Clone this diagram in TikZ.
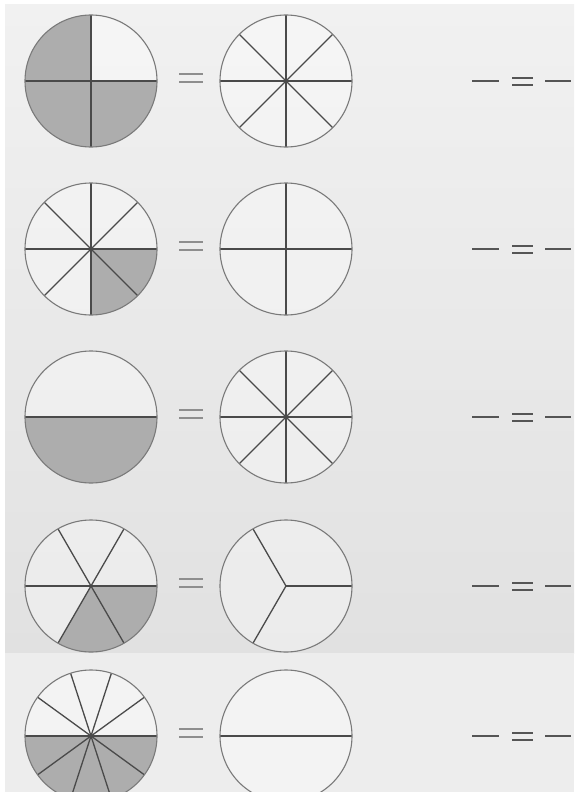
\documentclass[tikz,border=0pt]{standalone}
\definecolor{rimgray}{HTML}{7A7A7A}
\definecolor{spokegray}{HTML}{4A4A4A}
\definecolor{shadegray}{HTML}{ADADAD}
\definecolor{bgtop}{HTML}{F1F1F1}
\definecolor{bgmid}{HTML}{E1E1E1}
\definecolor{bgbot}{HTML}{EDEDED}
\definecolor{eqmid}{HTML}{8E8E8E}
\definecolor{eqright}{HTML}{555555}
\tikzset{
  rim/.style={draw=rimgray, line width=1.1pt},
  spoke/.style={draw=spokegray, line width=1.3pt},
  shadefill/.style={fill=shadegray},
  innerfill/.style={fill=white, opacity=0.35},
  eqmidline/.style={draw=eqmid, line width=2pt},
  eqrightline/.style={draw=eqright, line width=2pt},
}
\newcommand\plainpie[2]{%
  \fill[innerfill] (#1) circle[radius=66];
  \foreach \t in {#2} {\draw[spoke] (#1) -- ++(\t:66);}
  \draw[rim] (#1) circle[radius=66];
}
\newcommand\shadedpie[3]{%
  \fill[innerfill] (#1) circle[radius=66];
  \foreach \a/\b in {#3} {\fill[shadefill] (#1) -- ++(\a:66) arc[start angle=\a,end angle=\b,radius=66] -- cycle;}
  \foreach \t in {#2} {\draw[spoke] (#1) -- ++(\t:66);}
  \draw[rim] (#1) circle[radius=66];
}
\newcommand\hubdot[1]{\fill[spokegray] (#1) circle[radius=1.7];}
\newcommand\eqrow[1]{%
  \draw[eqmidline] (179,#1+7) -- (203,#1+7);
  \draw[eqmidline] (179,#1-1) -- (203,#1-1);
  \draw[eqrightline] (472,#1) -- (499,#1);
  \draw[eqrightline] (512,#1+3.5) -- (533,#1+3.5);
  \draw[eqrightline] (512,#1-3.5) -- (533,#1-3.5);
  \draw[eqrightline] (545,#1) -- (571,#1);
}
\begin{document}
\begin{tikzpicture}[x=1pt,y=1pt]
\useasboundingbox (0,0) rectangle (574,-792);
\fill[white] (0,0) rectangle (574,-792);
\shade[top color=bgtop, bottom color=bgmid] (5,-5) rectangle (574,-653);
\fill[bgbot] (5,-653) rectangle (574,-792);

\coordinate (L1) at (91,-81);  \coordinate (R1) at (286,-81);
\coordinate (L2) at (91,-249); \coordinate (R2) at (286,-249);
\coordinate (L3) at (91,-417); \coordinate (R3) at (286,-417);
\coordinate (L4) at (91,-586); \coordinate (R4) at (286,-586);
\coordinate (L5) at (91,-736); \coordinate (R5) at (286,-736);

% row 1
\shadedpie{L1}{0,90,180,270}{90/180,180/270,270/360}
\plainpie{R1}{0,45,...,315} \hubdot{R1}
\eqrow{-81}
% row 2
\shadedpie{L2}{0,45,...,315}{270/315,315/360} \hubdot{L2}
\plainpie{R2}{0,90,180,270}
\eqrow{-249}
% row 3
\shadedpie{L3}{0,180}{180/360}
\plainpie{R3}{0,45,...,315} \hubdot{R3}
\eqrow{-417}
% row 4
\shadedpie{L4}{0,60,...,300}{240/300,300/360} \hubdot{L4}
\plainpie{R4}{0,120,240}
\eqrow{-586}
% row 5
\shadedpie{L5}{0,36,...,324}{180/216,216/252,252/288,288/324,324/360} \hubdot{L5}
\plainpie{R5}{0,180}
\eqrow{-736}
\end{tikzpicture}
\end{document}
